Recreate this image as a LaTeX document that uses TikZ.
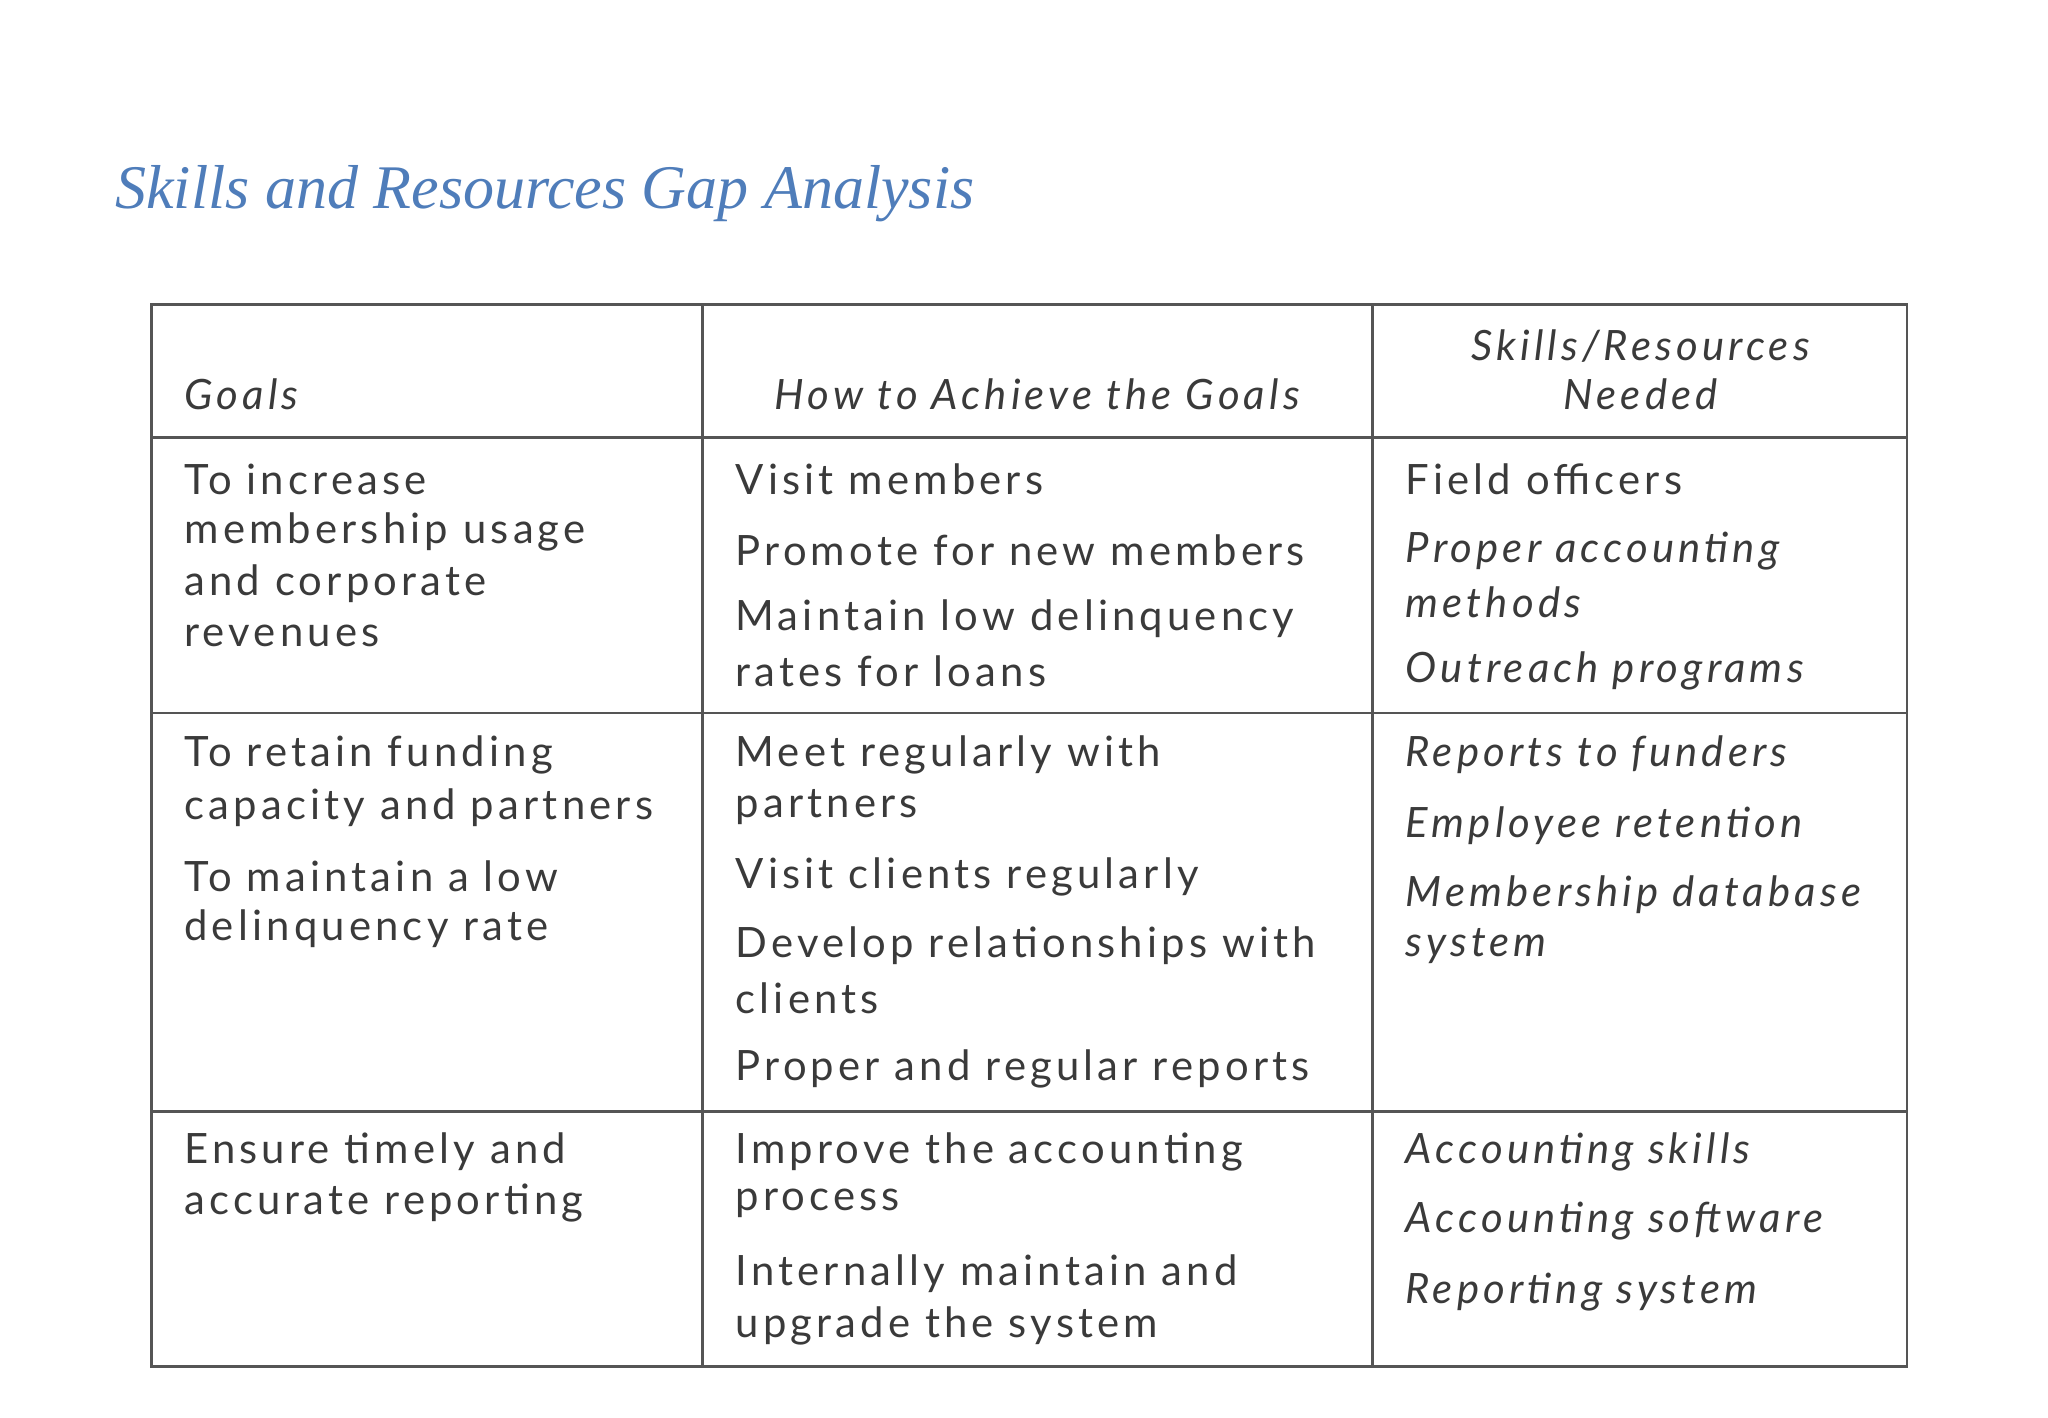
\documentclass[tikz,border=0pt]{standalone}
\usepackage{fontspec}
\setmainfont{Lato}[LetterSpace=10]
\newfontfamily\titlefont{Liberation Serif}
\definecolor{tblue}{HTML}{4F7DBA}
\definecolor{ttext}{HTML}{3A3A3A}
\definecolor{tline}{HTML}{555555}
\begin{document}
\begin{tikzpicture}[x=1pt,y=-1pt,
  cell/.style={anchor=west,inner sep=0pt,text=ttext,font=\fontsize{32}{36}\selectfont},
  icell/.style={cell,font=\fontsize{32}{36}\selectfont\itshape},
  grid/.style={draw=tline,line width=2pt}]
\useasboundingbox (0,0) rectangle (1568,1085);
\node[anchor=west,inner sep=0pt,text=tblue,font=\titlefont\itshape\fontsize{47.5}{52}\selectfont] (title) at (88,148) {Skills and Resources Gap Analysis};
\draw[grid] (116,233) rectangle (1460,1046);
\draw[grid] (538,233) -- (538,1046);
\draw[grid] (1051,233) -- (1051,1046);
\draw[grid] (116,335) -- (1460,335);
\draw[grid] (116,546) -- (1460,546);
\draw[grid] (116,851) -- (1460,851);
% header
\node[icell] (h1) at (141,302) {Goals};
\node[icell,anchor=center] (h2) at (794,302) {How to Achieve the Goals};
\node[icell,anchor=center] (h3a) at (1256,265) {Skills/Resources};
\node[icell,anchor=center] (h3b) at (1256,302) {Needed};
% row 1
\node[cell] (a1) at (141,367) {To increase};
\node[cell] (a2) at (141,407) {membership usage};
\node[cell] (a3) at (141,447) {and corporate};
\node[cell] (a4) at (141,487) {revenues};
\node[cell] (b1) at (563,367) {Visit members};
\node[cell] (b2) at (563,421) {Promote for new members};
\node[cell] (b3) at (563,474) {Maintain low delinquency};
\node[cell] (b4) at (563,514) {rates for loans};
\node[cell] (c1) at (1076,367) {Field officers};
\node[icell] (c2) at (1076,422) {Proper accounting};
\node[icell] (c3) at (1076,461) {methods};
\node[icell] (c4) at (1076,514) {Outreach programs};
% row 2
\node[cell] (d1) at (141,578) {To retain funding};
\node[cell] (d2) at (141,618) {capacity and partners};
\node[cell] (d3) at (141,671) {To maintain a low};
\node[cell] (d4) at (141,711) {delinquency rate};
\node[cell] (e1) at (563,578) {Meet regularly with};
\node[cell] (e2) at (563,618) {partners};
\node[cell] (e3) at (563,671) {Visit clients regularly};
\node[cell] (e4) at (563,724) {Develop relationships with};
\node[cell] (e5) at (563,764) {clients};
\node[cell] (e6) at (563,818) {Proper and regular reports};
\node[icell] (f1) at (1076,578) {Reports to funders};
\node[icell] (f2) at (1076,632) {Employee retention};
\node[icell] (f3) at (1076,685) {Membership database};
\node[icell] (f4) at (1076,724) {system};
% row 3
\node[cell] (g1) at (141,882) {Ensure timely and};
\node[cell] (g2) at (141,921) {accurate reporting};
\node[cell] (h1r) at (563,882) {Improve the accounting};
\node[cell] (h2r) at (563,921) {process};
\node[cell] (h3r) at (563,975) {Internally maintain and};
\node[cell] (h4r) at (563,1015) {upgrade the system};
\node[icell] (i1) at (1076,882) {Accounting skills};
\node[icell] (i2) at (1076,935) {Accounting software};
\node[icell] (i3) at (1076,989) {Reporting system};
\end{tikzpicture}
\end{document}
